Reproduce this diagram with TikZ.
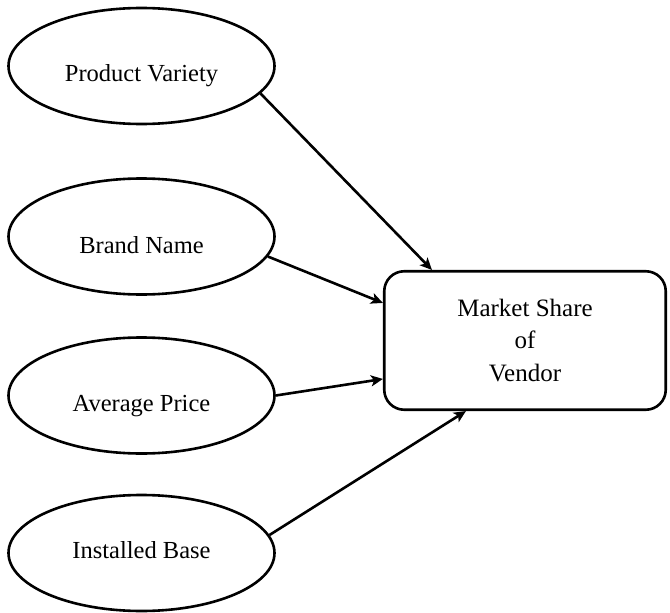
\documentclass[tikz,border=0pt]{standalone}
\usepackage{fontspec}
\setmainfont{Liberation Serif}
\usetikzlibrary{shapes.geometric,arrows.meta,calc}
\begin{document}
\begin{tikzpicture}[x=1pt,y=-1pt,
  oval/.style={ellipse, draw, line width=2.6pt, minimum width=266pt, minimum height=116pt,
    inner sep=0pt, font=\fontsize{24.5}{29}\selectfont, text depth=0pt},
  box/.style={rectangle, draw, rounded corners=20pt, line width=2.6pt, minimum width=281.5pt,
    minimum height=138.5pt, align=center, font=\fontsize{25}{32.5}\selectfont},
  link/.style={line width=2.6pt, -{Stealth[length=12pt,width=11pt,inset=3pt]}}]
\useasboundingbox (0,0) rectangle (670,613);
\node[oval, text height=30.8pt] (pv) at (141.5,66) {Product Variety};
\node[oval, text height=33.2pt] (bn) at (141.5,236.5) {Brand Name};
\node[oval, text height=31.2pt] (ap) at (141.5,395.5) {Average Price};
\node[oval, text height=11.2pt] (ib) at (141.5,553) {Installed Base};
\node[box] (ms) at (525,340.5) {Market Share\\of\\Vendor};
\draw[link] (pv.-13.9) -- ([xshift=49pt]ms.north west);
\draw[link] (bn.-9.4) -- ([yshift=-33pt]ms.north west);
\draw[link] (ap.0) -- ([yshift=-109pt]ms.north west);
\draw[link] (ib.8.8) -- ([xshift=83pt]ms.south west);
\end{tikzpicture}
\end{document}
